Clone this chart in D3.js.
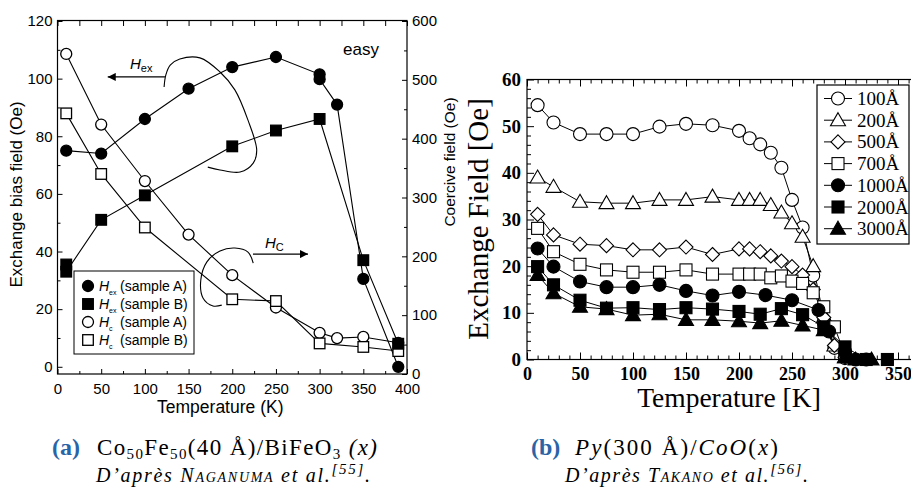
<!DOCTYPE html>
<html><head><meta charset="utf-8">
<script src="https://cdn.jsdelivr.net/npm/d3@7"></script>
<style>body{margin:0;background:#fff}svg{display:block}</style>
</head><body>
<svg id="c" width="911" height="490"></svg>
<script>
// ===== Panel (a) data =====
const tA_HexA = [10,50,100,150,200,250,300,300,320,350,390];
const HexA    = [75,74,86,96.5,104,107.5,101.5,99.8,91,30.5,0];
const tA_HexB = [10,10,50,100,200,250,300,350,390];
const HexB    = [35.5,33,51,59.5,76.5,82,86,37,8];
const tA_HcA  = [10,50,100,150,200,250,300,320,350,390];
const HcA     = [544,424,328,237,168,113,70,61,63,53];
const tA_HcB  = [10,50,100,200,250,300,350,390];
const HcB     = [443,340,249,127,124,52,46,39];
const ticksA_x  = [0,50,100,150,200,250,300,350,400];
const ticksA_yL = [0,20,40,60,80,100,120];
const ticksA_yR = [0,100,200,300,400,500,600];
const legendA_sub = ["ex","ex","c","c"];
const legendA_txt = ["(sample A)","(sample B)","(sample A)","(sample B)"];
// annotation curves (data units: T, exchange-bias axis)
const annHex_T = [122,124,129,140,163,186,203,218,228,224,209,186,172];
const annHex_v = [97.1,101.3,104.7,106.8,107.2,102.3,96.1,85.6,75.2,70.7,67.6,68.3,69.3];
const annHc_T  = [224,218,203,186,171,164,166.5,178,188];
const annHc_v  = [36,39.8,41.2,40.2,36.4,30.1,23.9,21.1,21.4];

// ===== Panel (b) data =====
const namesB = ["100Å","200Å","500Å","700Å","1000Å","2000Å","3000Å"];
const tB_100 = [10,25,50,75,100,125,150,175,200,210,220,230,240,250,260,270,280,290,300];
const vB_100 = [54.5,50.8,48.3,48.3,48.3,49.9,50.5,50.2,49,47.4,46.1,44.3,41.1,34.2,28.3,18,8,2.5,0.3];
const tB_200 = [10,25,50,75,100,125,150,175,200,210,220,230,240,250,260,270,280,290,300];
const vB_200 = [39,37,33.8,33.5,33.5,34.2,34.2,34.9,34.2,34.2,34.2,33.1,31.5,29.2,26.3,20,9,3,0.5];
const tB_500 = [10,25,50,75,100,125,150,175,200,210,220,230,240,250,260,270,280,290,300];
const vB_500 = [31.1,26.7,24.7,24.4,23.5,23.5,24.1,22.5,23.7,23.7,23.1,22.2,21.1,19.9,18.1,15,9,3,0.5];
const tB_700 = [10,25,50,75,100,125,150,175,200,210,220,230,240,250,260,270,280,290,300];
const vB_700 = [28.1,23.1,20.4,19.2,18.7,18.7,19.2,18.3,18.3,18.3,18.3,17.5,17.9,16.8,16.3,14.3,11.3,7,1];
const tB_1000 = [10,25,50,75,100,125,150,175,200,225,250,275,285,300,310,320];
const vB_1000 = [23.8,19.9,16.7,15.5,15.5,16,14.7,13.7,14.5,13.8,12.7,10.6,6,1.5,0,0];
const tB_2000 = [10,25,50,75,100,125,150,175,200,220,240,260,280,300,320,340];
const vB_2000 = [19.9,16,12.7,11,11.1,10.7,11.1,10.8,10.3,9.7,10.9,9.6,7,2.7,0,0];
const tB_3000 = [10,25,50,75,100,125,150,175,200,220,240,260,280,300,310,325];
const vB_3000 = [18.1,14.2,11.3,10.8,9.5,9.7,8.5,8.5,8.2,7.8,8.3,7.3,6.3,0.5,0,0];
const ticksB_x = [0,50,100,150,200,250,300,350];
const ticksB_y = [0,10,20,30,40,50,60];

// ===== drawing =====
const svg = d3.select("#c");
svg.append("rect").attr("width",911).attr("height",490).attr("fill","#fff");
const SANS = "'Liberation Sans', Arial, sans-serif";
const SERIF = "'Liberation Serif', 'Times New Roman', serif";

function styleAxis(g, font, size, weight){
  g.select(".domain").remove();
  g.selectAll("line").attr("stroke","#000").attr("stroke-width",1);
  g.selectAll("text").attr("font-family",font).attr("font-size",size)
   .attr("font-weight",weight||"normal").attr("fill","#000");
}
const range = (a,b,s)=>d3.range(a,b+1e-9,s);

// ---------- Panel (a) ----------
const xA  = d3.scaleLinear().domain([0,400]).range([57.5,407]);
const yA  = d3.scaleLinear().domain([-2.5,120]).range([374,21]);
const yA2 = d3.scaleLinear().domain([0,600]).range([374,21]);
const gA = svg.append("g");

gA.append("g").attr("transform","translate(0,374)")
  .call(d3.axisBottom(xA).tickValues(ticksA_x).tickSize(-5).tickPadding(9))
  .call(g=>styleAxis(g,SANS,15));
gA.append("g").attr("transform","translate(0,374)")
  .call(d3.axisBottom(xA).tickValues(range(25,375,50)).tickSize(-3).tickFormat(""))
  .call(g=>styleAxis(g,SANS,15));
gA.append("g").attr("transform","translate(0,21)")
  .call(d3.axisTop(xA).tickValues(range(0,400,25)).tickSize(-5).tickFormat(""))
  .call(g=>styleAxis(g,SANS,15));
gA.append("g").attr("transform","translate(57.5,0)")
  .call(d3.axisLeft(yA).tickValues(ticksA_yL).tickSize(-5).tickPadding(5))
  .call(g=>styleAxis(g,SANS,15));
gA.append("g").attr("transform","translate(57.5,0)")
  .call(d3.axisLeft(yA).tickValues(range(10,110,20)).tickSize(-3).tickFormat(""))
  .call(g=>styleAxis(g,SANS,15));
gA.append("g").attr("transform","translate(407,0)")
  .call(d3.axisRight(yA2).tickValues(ticksA_yR).tickSize(-5).tickPadding(5))
  .call(g=>styleAxis(g,SANS,15));
gA.append("g").attr("transform","translate(407,0)")
  .call(d3.axisRight(yA2).tickValues(range(50,550,100)).tickSize(-3).tickFormat(""))
  .call(g=>styleAxis(g,SANS,15));
gA.append("rect").attr("x",xA(0)).attr("y",yA(120)-0.5).attr("width",xA(400)-xA(0))
  .attr("height",yA(-2.5)-yA(120)+0.5).attr("fill","none").attr("stroke","#000").attr("stroke-width",1.2);

gA.append("text").attr("transform",`translate(22,${(21+374)/2-3}) rotate(-90)`)
  .attr("text-anchor","middle").attr("font-family",SANS).attr("font-size",17).text("Exchange bias field (Oe)");
gA.append("text").attr("transform",`translate(455,162) rotate(-90)`)
  .attr("text-anchor","middle").attr("font-family",SANS).attr("font-size",15.5).text("Coercive field (Oe)");
gA.append("text").attr("x",(57.5+407)/2-12).attr("y",413).attr("text-anchor","middle")
  .attr("font-family",SANS).attr("font-size",17.5).text("Temperature (K)");

const lineA = (ys)=>d3.line().x(d=>xA(d[0])).y(d=>ys(d[1]));
const zip = (a,b)=>a.map((v,i)=>[v,b[i]]);
const sA = [
  {d:zip(tA_HexA,HexA), y:yA, shape:"circle", fill:"#000"},
  {d:zip(tA_HexB,HexB), y:yA, shape:"square", fill:"#000"},
  {d:zip(tA_HcA,HcA), y:yA2, shape:"circle", fill:"#fff"},
  {d:zip(tA_HcB,HcB), y:yA2, shape:"square", fill:"#fff"}
];
sA.forEach(s=>{
  gA.append("path").attr("d",lineA(s.y)(s.d)).attr("fill","none").attr("stroke","#000").attr("stroke-width",1.1);
});
function markA(g,shape,fill,x,y){
  if(shape==="circle") g.append("circle").attr("cx",x).attr("cy",y).attr("r",5.5)
      .attr("fill",fill).attr("stroke","#000").attr("stroke-width",1.3);
  else g.append("rect").attr("x",x-5.3).attr("y",y-5.3).attr("width",10.6).attr("height",10.6)
      .attr("fill",fill).attr("stroke","#000").attr("stroke-width",1.3);
}
[sA[2],sA[3],sA[1],sA[0]].forEach(s=>s.d.forEach(p=>markA(gA,s.shape,s.fill,xA(p[0]),s.y(p[1]))));

// annotations
const defs = svg.append("defs");
defs.append("marker").attr("id","arr").attr("viewBox","0 0 10 10").attr("refX",10).attr("refY",5)
  .attr("markerWidth",10).attr("markerHeight",8).attr("markerUnits","userSpaceOnUse").attr("orient","auto")
  .append("path").attr("d","M0,0L10,5L0,10Z").attr("fill","#000");
const cl = d3.line().x(d=>xA(d[0])).y(d=>yA(d[1])).curve(d3.curveCatmullRom);
gA.append("path").attr("d",cl(zip(annHex_T,annHex_v))).attr("fill","none").attr("stroke","#000").attr("stroke-width",1.1);
gA.append("path").attr("d",cl(zip(annHc_T,annHc_v))).attr("fill","none").attr("stroke","#000").attr("stroke-width",1.1);
gA.append("line").attr("x1",xA(123)).attr("x2",xA(57.5)).attr("y1",yA(100.6)).attr("y2",yA(100.6))
  .attr("stroke","#000").attr("stroke-width",1.1).attr("marker-end","url(#arr)");
gA.append("line").attr("x1",xA(223.7)).attr("x2",xA(286.7)).attr("y1",yA(39.1)).attr("y2",yA(39.1))
  .attr("stroke","#000").attr("stroke-width",1.1).attr("marker-end","url(#arr)");
const tHex = gA.append("text").attr("x",xA(83)).attr("y",yA(103.3)).attr("font-family",SANS).attr("font-size",15);
tHex.append("tspan").attr("font-style","italic").text("H");
tHex.append("tspan").attr("font-size",11).attr("dy",3).text("ex");
const tHc = gA.append("text").attr("x",xA(237.5)).attr("y",yA(41.2)).attr("font-family",SANS).attr("font-size",15);
tHc.append("tspan").attr("font-style","italic").text("H");
tHc.append("tspan").attr("font-size",11).attr("dy",3).text("C");
gA.append("text").attr("x",343).attr("y",55).attr("font-family",SANS).attr("font-size",17).text("easy");

// legend (a)
gA.append("rect").attr("x",74).attr("y",271).attr("width",120).attr("height",83)
  .attr("fill","#fff").attr("stroke","#000").attr("stroke-width",1);
sA.forEach((s,i)=>{
  const cy = 286 + i*18;
  markA(gA,s.shape,s.fill,88,cy);
  gA.append("text").attr("x",99).attr("y",cy+5).attr("font-family",SANS).attr("font-size",14)
    .attr("font-style","italic").text("H");
  gA.append("text").attr("x",109).attr("y",cy+9).attr("font-family",SANS).attr("font-size",7)
    .text(legendA_sub[i]);
  gA.append("text").attr("x",120).attr("y",cy+5).attr("font-family",SANS).attr("font-size",14).text(legendA_txt[i]);
});

// ---------- Panel (b) ----------
const xB = d3.scaleLinear().domain([0,370]).range([527,919.2]);
const yB = d3.scaleLinear().domain([0,60]).range([359.5,79.5]);
const gB = svg.append("g");
gB.append("g").attr("transform","translate(0,359.5)")
  .call(d3.axisBottom(xB).tickValues(ticksB_x).tickSize(-7).tickPadding(8))
  .call(g=>styleAxis(g,SERIF,18,"bold"));
gB.append("g").attr("transform","translate(0,359.5)")
  .call(d3.axisBottom(xB).tickValues(range(10,370,10).filter(v=>v%50)).tickSize(-4).tickFormat(""))
  .call(g=>styleAxis(g,SERIF,18));
gB.append("g").attr("transform","translate(0,79.5)")
  .call(d3.axisTop(xB).tickValues(ticksB_x).tickSize(-7).tickFormat(""))
  .call(g=>styleAxis(g,SERIF,18));
gB.append("g").attr("transform","translate(0,79.5)")
  .call(d3.axisTop(xB).tickValues(range(10,370,10).filter(v=>v%50)).tickSize(-4).tickFormat(""))
  .call(g=>styleAxis(g,SERIF,18));
gB.append("g").attr("transform","translate(527,0)")
  .call(d3.axisLeft(yB).tickValues(ticksB_y).tickSize(-7).tickPadding(6))
  .call(g=>styleAxis(g,SERIF,19,"bold"));
gB.append("g").attr("transform","translate(527,0)")
  .call(d3.axisLeft(yB).tickValues(range(2,58,2).filter(v=>v%10)).tickSize(-4).tickFormat(""))
  .call(g=>styleAxis(g,SERIF,19));
gB.append("rect").attr("x",xB(0)).attr("y",yB(60)).attr("width",xB(370)-xB(0)).attr("height",yB(0)-yB(60))
  .attr("fill","none").attr("stroke","#000").attr("stroke-width",1.2);

gB.append("text").attr("transform",`translate(488,219) rotate(-90)`).attr("text-anchor","middle")
  .attr("font-family",SERIF).attr("font-size",29).text("Exchange Field [Oe]");
gB.append("text").attr("x",729).attr("y",407).attr("text-anchor","middle")
  .attr("font-family",SERIF).attr("font-size",27.5).text("Temperature [K]");

const shapesB = ["circle","triangle","diamond","square","circle","square","triangle"];
function symB(g,kind,x,y){
  const fill = kind>=4 ? "#000" : "#fff";
  const shape = shapesB[kind];
  let el;
  if(shape==="circle") el = g.append("circle").attr("cx",x).attr("cy",y).attr("r",6.5);
  else if(shape==="square") el = g.append("rect").attr("x",x-6).attr("y",y-6).attr("width",12).attr("height",12);
  else if(shape==="diamond") el = g.append("path").attr("d",`M${x},${y-7}L${x+7},${y}L${x},${y+7}L${x-7},${y}Z`);
  else el = g.append("path").attr("d",`M${x},${y-7.5}L${x+7.5},${y+5.5}L${x-7.5},${y+5.5}Z`);
  el.attr("fill",fill).attr("stroke","#000").attr("stroke-width",1.1);
}
const seriesB = [zip(tB_100,vB_100),zip(tB_200,vB_200),zip(tB_500,vB_500),zip(tB_700,vB_700),
                 zip(tB_1000,vB_1000),zip(tB_2000,vB_2000),zip(tB_3000,vB_3000)];
const lB = d3.line().x(d=>xB(d[0])).y(d=>yB(d[1]));
seriesB.forEach(s=>gB.append("path").attr("d",lB(s)).attr("fill","none").attr("stroke","#000").attr("stroke-width",1));
seriesB.forEach((s,k)=>s.forEach(p=>symB(gB,k,xB(p[0]),yB(p[1]))));

// legend (b)
gB.append("rect").attr("x",817).attr("y",85).attr("width",92).attr("height",159)
  .attr("fill","#fff").attr("stroke","#000").attr("stroke-width",1.2);
namesB.forEach((n,k)=>{
  const cy = 98.5 + k*21.7;
  gB.append("line").attr("x1",824).attr("x2",852).attr("y1",cy).attr("y2",cy).attr("stroke","#000");
  symB(gB,k,838,cy);
  gB.append("text").attr("x",857).attr("y",cy+6.5).attr("font-family",SERIF).attr("font-size",19).text(n);
});

// ---------- captions ----------
const BLUE = "#2a64a6";
svg.append("text").attr("x",52).attr("y",455).attr("font-family",SERIF).attr("font-size",24)
  .attr("font-weight","bold").attr("fill",BLUE).text("(a)");
const cA = svg.append("text").attr("x",97).attr("y",455).attr("font-family",SERIF).attr("font-size",23)
  .attr("textLength",280).attr("lengthAdjust","spacing");
cA.append("tspan").text("Co");
cA.append("tspan").attr("font-size",15).attr("dy",4).text("50");
cA.append("tspan").attr("dy",-4).text("Fe");
cA.append("tspan").attr("font-size",15).attr("dy",4).text("50");
cA.append("tspan").attr("dy",-4).text("(40 Å)/BiFeO");
cA.append("tspan").attr("font-size",15).attr("dy",4).text("3");
cA.append("tspan").attr("dy",-4).attr("font-style","italic").text(" (x)");

const cA2 = svg.append("text").attr("x",96).attr("y",482).attr("font-family",SERIF).attr("font-size",20)
  .attr("font-style","italic").attr("textLength",274).attr("lengthAdjust","spacing");
cA2.append("tspan").text("D’après ");
cA2.append("tspan").attr("font-variant","small-caps").text("Naganuma");
cA2.append("tspan").text(" et al.");
cA2.append("tspan").attr("font-size",15).attr("dy",-8).text("[55]");
cA2.append("tspan").attr("dy",8).text(".");

svg.append("text").attr("x",531).attr("y",455).attr("font-family",SERIF).attr("font-size",24)
  .attr("font-weight","bold").attr("fill",BLUE).text("(b)");
const cB = svg.append("text").attr("x",575).attr("y",455).attr("font-family",SERIF).attr("font-size",23)
  .attr("textLength",203).attr("lengthAdjust","spacing");
cB.append("tspan").attr("font-style","italic").text("Py");
cB.append("tspan").text("(300 Å)/");
cB.append("tspan").attr("font-style","italic").text("CoO");
cB.append("tspan").text("(");
cB.append("tspan").attr("font-style","italic").text("x");
cB.append("tspan").text(")");

const cB2 = svg.append("text").attr("x",565).attr("y",482).attr("font-family",SERIF).attr("font-size",20)
  .attr("font-style","italic").attr("textLength",243).attr("lengthAdjust","spacing");
cB2.append("tspan").text("D’après ");
cB2.append("tspan").attr("font-variant","small-caps").text("Takano");
cB2.append("tspan").text(" et al.");
cB2.append("tspan").attr("font-size",15).attr("dy",-8).text("[56]");
cB2.append("tspan").attr("dy",8).text(".");
</script>
</body></html>
